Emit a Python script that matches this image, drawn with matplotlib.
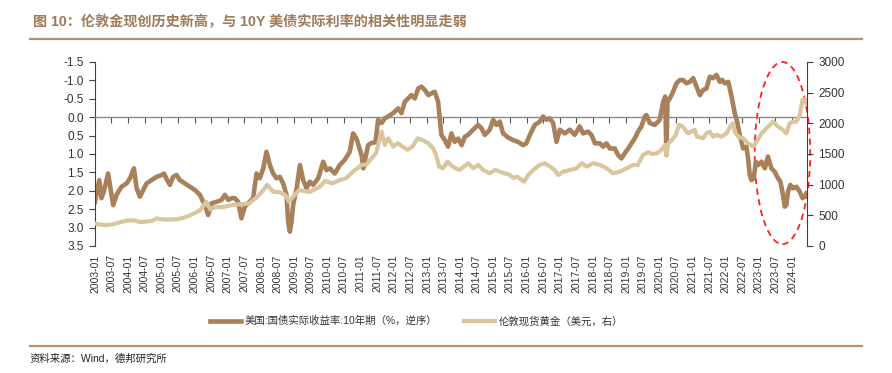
import matplotlib
matplotlib.use('Agg')
import matplotlib.pyplot as plt
import matplotlib.dates as mdates
import pandas as pd
from matplotlib.patches import Ellipse
from matplotlib.lines import Line2D

plt.rcParams['font.family'] = ['Liberation Sans', 'Noto Sans CJK SC']

# 美国10年期国债实际收益率 (%, inverted axis)
ry_dates = [
    '2003-01-01', '2003-02-17', '2003-03-13', '2003-04-08', '2003-05-25', '2003-06-20',
    '2003-07-20', '2003-08-26', '2003-10-20', '2003-12-14', '2004-01-21', '2004-03-04',
    '2004-04-03', '2004-05-09', '2004-06-15', '2004-07-21', '2004-09-15', '2004-11-09',
    '2005-01-04', '2005-01-29', '2005-03-05', '2005-04-04', '2005-05-10', '2005-06-16',
    '2005-07-23', '2005-09-17', '2005-11-11', '2006-01-05', '2006-02-28', '2006-04-24',
    '2006-05-30', '2006-07-06', '2006-08-30', '2006-10-24', '2006-11-30', '2007-01-07',
    '2007-02-12', '2007-03-19', '2007-04-25', '2007-05-31', '2007-07-07', '2007-08-13',
    '2007-10-07', '2007-11-13', '2007-12-19', '2008-01-26', '2008-03-02', '2008-04-08',
    '2008-05-14', '2008-06-20', '2008-07-26', '2008-09-01', '2008-10-08', '2008-10-26',
    '2008-11-14', '2008-12-02', '2008-12-20', '2009-01-28', '2009-03-05', '2009-04-10',
    '2009-05-16', '2009-06-22', '2009-07-28', '2009-09-22', '2009-11-16', '2009-12-22',
    '2010-01-29', '2010-03-23', '2010-05-17', '2010-07-11', '2010-09-04', '2010-10-11',
    '2010-11-17', '2011-01-12', '2011-01-31', '2011-03-25', '2011-05-01', '2011-06-14',
    '2011-07-13', '2011-08-19', '2011-09-25', '2011-10-31', '2011-12-25', '2012-02-19',
    '2012-03-26', '2012-05-02', '2012-06-07', '2012-07-14', '2012-08-20', '2012-09-26',
    '2012-11-01', '2012-12-08', '2013-01-15', '2013-02-20', '2013-03-27', '2013-05-03',
    '2013-05-21', '2013-06-08', '2013-07-15', '2013-08-21', '2013-09-27', '2013-11-02',
    '2013-12-09', '2014-01-17', '2014-02-22', '2014-03-29', '2014-05-23', '2014-07-17',
    '2014-08-23', '2014-09-29', '2014-11-23', '2014-12-30', '2015-02-05', '2015-03-13',
    '2015-04-18', '2015-06-11', '2015-08-05', '2015-09-30', '2015-11-24', '2015-12-30',
    '2016-02-07', '2016-04-01', '2016-05-26', '2016-07-02', '2016-08-07', '2016-09-13',
    '2016-10-20', '2016-11-26', '2017-01-01', '2017-02-26', '2017-04-21', '2017-06-14',
    '2017-08-08', '2017-09-14', '2017-11-08', '2017-12-15', '2018-01-23', '2018-03-18',
    '2018-04-23', '2018-05-29', '2018-07-05', '2018-08-29', '2018-10-05', '2018-11-10',
    '2018-12-17', '2019-01-24', '2019-03-01', '2019-04-05', '2019-05-12', '2019-06-18',
    '2019-07-25', '2019-08-12', '2019-09-18', '2019-11-12', '2020-01-06', '2020-02-13',
    '2020-03-06', '2020-03-19', '2020-03-31', '2020-04-26', '2020-05-31', '2020-07-08',
    '2020-08-13', '2020-09-19', '2020-10-26', '2020-12-02', '2021-01-08', '2021-02-14',
    '2021-03-22', '2021-04-28', '2021-06-03', '2021-07-10', '2021-08-15', '2021-09-21',
    '2021-10-28', '2021-11-23', '2021-12-22', '2022-01-29', '2022-03-06', '2022-04-10',
    '2022-05-06', '2022-06-04', '2022-07-11', '2022-08-16', '2022-09-04', '2022-09-22',
    '2022-10-11', '2022-11-05', '2022-11-28', '2022-12-23', '2023-01-30', '2023-03-07',
    '2023-04-11', '2023-05-18', '2023-06-23', '2023-07-30', '2023-08-25', '2023-09-23',
    '2023-10-12', '2023-10-30', '2023-11-17', '2023-12-13', '2024-01-12', '2024-02-18',
    '2024-03-25', '2024-04-24', '2024-05-19', '2024-06-06',
]
ry_values = [
    2.30, 1.71, 2.20, 2.02, 1.53, 1.93,
    2.39, 2.11, 1.89, 1.80, 1.66, 1.39,
    1.93, 2.16, 1.98, 1.80, 1.71, 1.62,
    1.57, 1.53, 1.71, 1.84, 1.62, 1.57,
    1.71, 1.80, 1.89, 1.98, 2.11, 2.39,
    2.66, 2.34, 2.30, 2.25, 2.11, 2.25,
    2.20, 2.20, 2.30, 2.75, 2.43, 2.34,
    2.20, 1.53, 1.66, 1.39, 0.94, 1.30,
    1.53, 1.66, 1.62, 1.80, 2.11, 2.84,
    3.11, 2.84, 2.39, 1.93, 1.30, 1.71,
    1.93, 1.75, 1.84, 1.66, 1.21, 1.44,
    1.39, 1.53, 1.30, 1.16, 0.94, 0.44,
    0.58, 1.03, 1.39, 0.76, 0.70, 0.68,
    0.07, 0.16, 0.03, -0.02, -0.11, -0.24,
    -0.11, -0.42, -0.51, -0.60, -0.51, -0.78,
    -0.83, -0.74, -0.60, -0.65, -0.69, -0.42,
    0.03, 0.48, 0.62, 0.80, 0.44, 0.67,
    0.58, 0.76, 0.53, 0.48, 0.34, 0.21,
    0.30, 0.48, 0.34, 0.07, 0.21, 0.12,
    0.44, 0.55, 0.62, 0.67, 0.76, 0.71,
    0.48, 0.21, 0.12, -0.02, 0.07, 0.03,
    0.16, 0.67, 0.34, 0.44, 0.34, 0.48,
    0.25, 0.44, 0.39, 0.48, 0.71, 0.71,
    0.80, 0.71, 0.85, 0.85, 1.03, 1.12,
    0.98, 0.85, 0.71, 0.58, 0.39, 0.25,
    -0.02, -0.06, 0.16, 0.21, 0.07, -0.42,
    -0.56, 1.03, -0.42, -0.51, -0.69, -0.92,
    -1.01, -1.01, -0.92, -0.96, -1.06, -0.83,
    -0.60, -0.74, -0.78, -1.10, -1.06, -1.15,
    -0.96, -1.01, -0.92, -0.96, -0.56, -0.11,
    0.12, 0.48, 0.85, 0.80, 1.12, 1.57,
    1.71, 1.66, 1.21, 1.30, 1.21, 1.39,
    1.07, 1.39, 1.48, 1.66, 1.75, 2.11,
    2.43, 2.39, 2.02, 1.84, 1.93, 1.89,
    2.02, 2.20, 2.16, 2.07,
]

# 伦敦现货黄金 (美元, right axis)
gold_dates = [
    '2003-01-01', '2003-02-25', '2003-05-10', '2003-07-20', '2003-09-15', '2003-11-05',
    '2003-12-20', '2004-02-25', '2004-05-15', '2004-07-20', '2004-09-20', '2004-11-10',
    '2005-01-05', '2005-03-15', '2005-06-16', '2005-09-01', '2005-11-11', '2006-01-05',
    '2006-02-28', '2006-05-10', '2006-06-20', '2006-08-10', '2006-11-10', '2007-02-25',
    '2007-05-10', '2007-08-20', '2007-10-01', '2007-11-13', '2008-01-20', '2008-03-10',
    '2008-05-14', '2008-07-20', '2008-09-25', '2008-11-05', '2008-12-20', '2009-02-25',
    '2009-06-20', '2009-10-10', '2009-12-05', '2010-02-25', '2010-05-17', '2010-07-25',
    '2010-10-10', '2011-01-12', '2011-03-10', '2011-04-25', '2011-06-20', '2011-08-20',
    '2011-09-25', '2011-11-01', '2011-12-26', '2012-02-15', '2012-04-10', '2012-06-01',
    '2012-07-25', '2012-09-20', '2012-11-10', '2013-01-15', '2013-03-10', '2013-04-10',
    '2013-05-15', '2013-06-25', '2013-08-15', '2013-09-20', '2013-11-10', '2013-12-25',
    '2014-02-10', '2014-04-01', '2014-05-25', '2014-07-20', '2014-09-10', '2014-11-20',
    '2015-01-20', '2015-03-10', '2015-05-01', '2015-06-25', '2015-08-10', '2015-09-20',
    '2015-12-05', '2016-01-20', '2016-03-15', '2016-05-25', '2016-07-20', '2016-09-15',
    '2016-11-05', '2016-12-15', '2017-02-10', '2017-04-25', '2017-07-05', '2017-08-30',
    '2017-10-25', '2018-01-05', '2018-03-20', '2018-06-01', '2018-08-10', '2018-10-25',
    '2019-01-05', '2019-03-20', '2019-05-10', '2019-07-05', '2019-08-30', '2019-10-15',
    '2019-12-05', '2020-01-25', '2020-03-05', '2020-03-19', '2020-04-10', '2020-05-20',
    '2020-06-30', '2020-08-06', '2020-09-15', '2020-11-10', '2020-12-15', '2021-01-25',
    '2021-02-19', '2021-04-27', '2021-06-03', '2021-07-10', '2021-08-15', '2021-09-21',
    '2021-11-15', '2022-01-10', '2022-02-19', '2022-03-20', '2022-04-12', '2022-05-18',
    '2022-07-12', '2022-09-04', '2022-10-29', '2022-12-05', '2023-01-30', '2023-03-07',
    '2023-04-12', '2023-06-06', '2023-07-31', '2023-09-23', '2023-10-30', '2023-12-06',
    '2024-01-12', '2024-02-18', '2024-03-25', '2024-04-24', '2024-05-20', '2024-06-06',
]
gold_values = [
    365, 350, 340, 355, 380, 400,
    415, 420, 390, 400, 410, 450,
    435, 430, 435, 460, 500, 540,
    580, 720, 600, 630, 635, 670,
    680, 690, 740, 790, 900, 995,
    886, 880, 832, 723, 805, 913,
    880, 968, 1060, 1022, 1076, 1104,
    1212, 1321, 1330, 1420, 1510, 1864,
    1647, 1756, 1620, 1675, 1620, 1566,
    1620, 1756, 1729, 1675, 1593, 1484,
    1294, 1267, 1376, 1321, 1267, 1240,
    1294, 1349, 1267, 1321, 1240, 1185,
    1240, 1213, 1185, 1165, 1110, 1130,
    1049, 1158, 1240, 1321, 1349, 1294,
    1240, 1158, 1213, 1240, 1267, 1349,
    1294, 1349, 1321, 1267, 1185, 1213,
    1267, 1321, 1321, 1484, 1530, 1500,
    1511, 1566, 1647, 1484, 1675, 1729,
    1811, 1974, 1946, 1838, 1864, 1892,
    1783, 1756, 1838, 1864, 1783, 1811,
    1783, 1838, 1946, 2001, 1864, 1783,
    1756, 1675, 1620, 1702, 1838, 1892,
    1946, 2028, 1946, 1892, 1838, 2001,
    2028, 2028, 2137, 2382, 2400, 2328,
]

left_ticks = [-1.5, -1.0, -0.5, 0.0, 0.5, 1.0, 1.5, 2.0, 2.5, 3.0, 3.5]
right_ticks = [0, 500, 1000, 1500, 2000, 2500, 3000]

title = '图 10：伦敦金现创历史新高，与 10Y 美债实际利率的相关性明显走弱'
label_ry = '美国:国债实际收益率:10年期（%，逆序）'
label_gold = '伦敦现货黄金（美元，右）'
source = '资料来源：Wind，德邦研究所'

brown = '#A8815A'
sand = '#D9C69E'
title_color = '#9E7B5A'
rule_color = '#B3916F'

ry_x = pd.to_datetime(ry_dates)
gold_x = pd.to_datetime(gold_dates)

fig = plt.figure(figsize=(8.92, 3.73), dpi=100)
ax = fig.add_axes([95 / 892, 127 / 373, 712 / 892, 184 / 373])
ax2 = ax.twinx()

l1, = ax.plot(ry_x, ry_values, color=brown, lw=3.3, solid_joinstyle='round')
l2, = ax2.plot(gold_x, gold_values, color=sand, lw=3.0, solid_joinstyle='round')

ax.set_xlim(pd.Timestamp('2003-01-01'), pd.Timestamp('2024-06-13'))
ax.set_ylim(3.5, -1.5)
ax.set_yticks(left_ticks)
ax.set_yticklabels([f'{v:.1f}' for v in left_ticks])
ax2.set_ylim(0, 3000)
ax2.set_yticks(right_ticks)

# category axis crosses at 0: gray line with ticks, labels at the bottom
ax.spines['bottom'].set_position(('data', 0))
ax.spines['bottom'].set_color('#8a8a8a')
ax.spines['bottom'].set_linewidth(1.0)
ax.spines['top'].set_visible(False)
ax.spines['right'].set_visible(False)
ax.spines['left'].set_color('#404040')
ax.xaxis.set_major_locator(mdates.MonthLocator(bymonth=(1, 7)))
ax.tick_params(axis='x', direction='out', length=4, color='#555555', labelbottom=False)
ax.tick_params(axis='y', direction='out', length=4, color='#404040',
               labelsize=8.5, labelcolor='#333333', pad=4)

for s in ['top', 'bottom', 'left']:
    ax2.spines[s].set_visible(False)
ax2.spines['right'].set_color('#404040')
ax2.tick_params(axis='y', direction='out', length=4, color='#404040',
                labelsize=8.5, labelcolor='#333333', pad=4)

sec = ax.secondary_xaxis(0)
sec.xaxis.set_major_locator(mdates.MonthLocator(bymonth=(1, 7)))
sec.xaxis.set_major_formatter(mdates.DateFormatter('%Y-%m'))
sec.spines['bottom'].set_visible(False)
sec.tick_params(axis='x', length=0, labelsize=7.5, labelcolor='#333333',
                labelrotation=90, pad=6)

ax.add_patch(Ellipse((0.9655, 0.505), 0.078, 0.99, transform=ax.transAxes,
                     fill=False, ec='#FF2020', lw=1.3, ls=(0, (3.5, 2.5)), clip_on=False))

fig.legend([l1, l2], [label_ry, label_gold], loc='center', ncol=2,
           bbox_to_anchor=(0.467, 52 / 373), frameon=False, fontsize=7.5,
           handlelength=3.0, handletextpad=0.3, columnspacing=2.6,
           labelcolor='#333333')

fig.text(33 / 892, 1 - 22 / 373, title, fontsize=10.2, fontweight='bold',
         color=title_color, va='center', ha='left')
fig.add_artist(Line2D([30 / 892, 862 / 892], [1 - 39 / 373] * 2,
                      transform=fig.transFigure, color=rule_color, lw=1.6))
fig.add_artist(Line2D([30 / 892, 862 / 892], [1 - 346 / 373] * 2,
                      transform=fig.transFigure, color=rule_color, lw=1.6))
fig.text(30 / 892, 1 - 359 / 373, source, fontsize=7.5, color='#222222',
         va='center', ha='left')

fig.savefig('out.png', dpi=100)
